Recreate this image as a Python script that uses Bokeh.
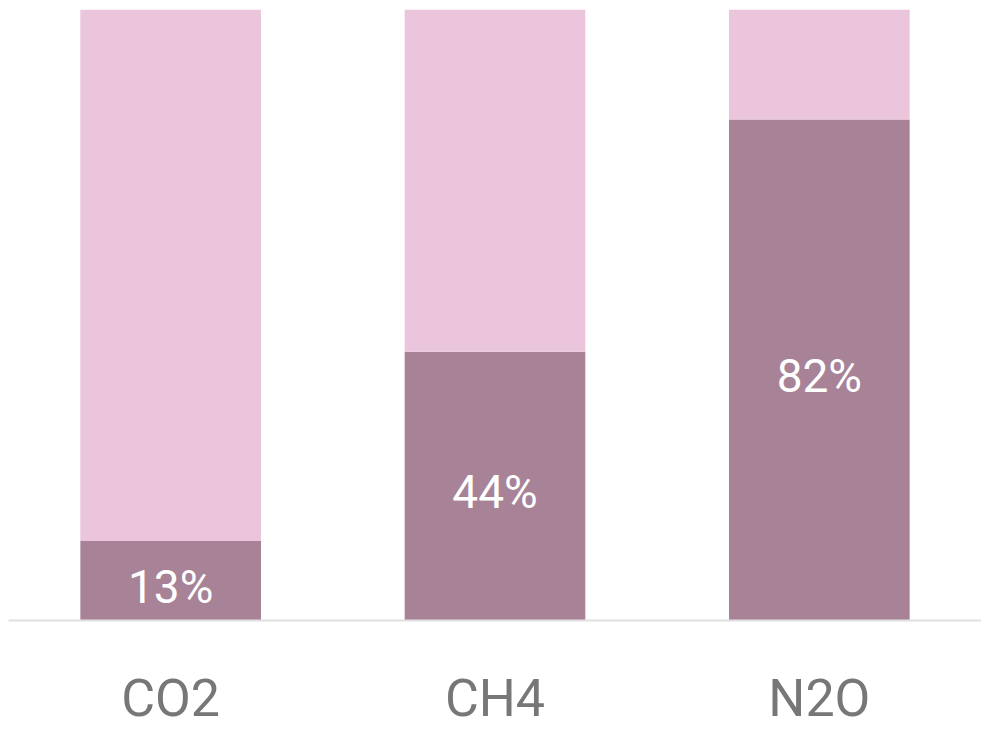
from bokeh.plotting import figure
from bokeh.models import ColumnDataSource, Range1d, FactorRange, LabelSet
from bokeh.core.properties import value
from bokeh.embed import file_html
from bokeh.resources import INLINE

gases = ["CO2", "CH4", "N2O"]
share = [13, 44, 82]
rest = [87, 56, 18]
labels = ["13%", "44%", "82%"]

src = ColumnDataSource(dict(
    gas=gases, share=share, rest=rest, lab=labels,
    mid=[s / 2 - 1 for s in share],
))

FONT = "Roboto"

p = figure(x_range=FactorRange(*gases, range_padding=0), y_range=Range1d(0, 100),
           frame_width=973, frame_height=611, output_backend="svg", toolbar_location=None,
           min_border_top=9, min_border_left=8, min_border_right=0, min_border_bottom=0)
p.vbar_stack(["share", "rest"], x="gas", width=0.557, source=src,
             color=["#A88397", "#EBC5DB"], line_color=None)

lbl = LabelSet(x="gas", y="mid", text="lab", source=src, text_color="white",
               text_font_size="46px", text_font=value(FONT), text_align="center",
               text_baseline="middle")
p.add_layout(lbl)

p.yaxis.visible = False
p.grid.visible = False
p.outline_line_color = None
ax = p.xaxis[0]
ax.axis_line_color = "#E0E0E0"
ax.axis_line_width = 2
ax.major_tick_line_color = None
ax.minor_tick_line_color = None
ax.major_label_text_font = FONT
ax.major_label_text_font_size = "52px"
ax.major_label_text_color = "#777777"
ax.major_label_standoff = 41

open("out.html", "w").write(file_html(p, INLINE))
